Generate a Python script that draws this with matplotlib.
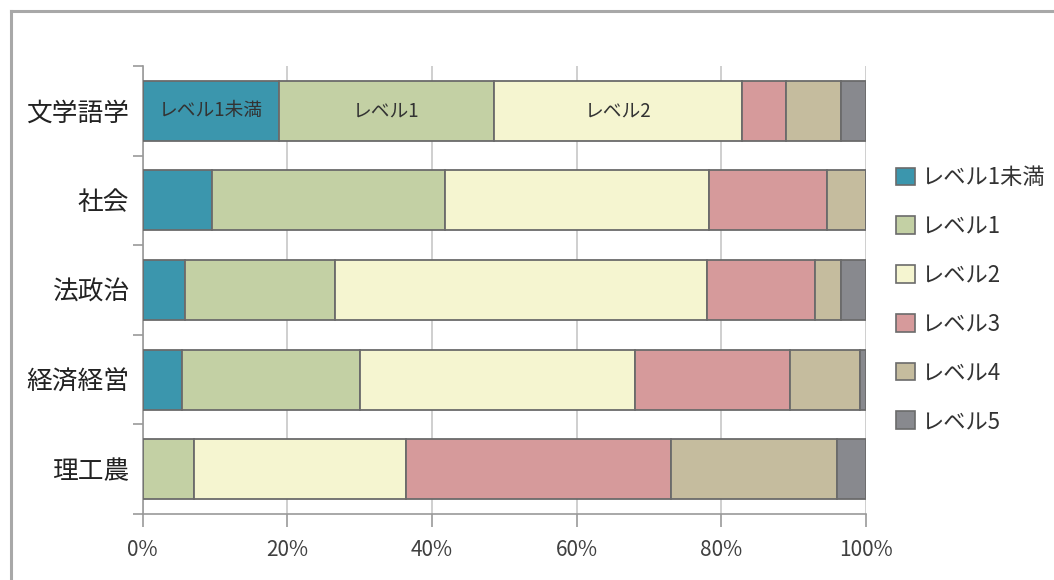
import matplotlib
matplotlib.use("Agg")
import matplotlib.pyplot as plt
from matplotlib.lines import Line2D
from matplotlib.patches import Patch
import numpy as np

plt.rcParams['font.family'] = ['Noto Sans CJK JP', 'DejaVu Sans']

fields = ['文学語学', '社会', '法政治', '経済経営', '理工農']
levels = ['レベル1未満', 'レベル1', 'レベル2', 'レベル3', 'レベル4', 'レベル5']
colors = ['#3b96ad', '#c3d0a4', '#f5f5d0', '#d69a9b', '#c5bc9e', '#88898e']

# share of each level per field (%)
below1 = [18.8, 9.6, 5.9, 5.5, 0.0]
level1 = [29.8, 32.2, 20.7, 24.6, 7.1]
level2 = [34.2, 36.5, 51.4, 38.0, 29.3]
level3 = [6.1, 16.3, 15.0, 21.4, 36.7]
level4 = [7.7, 5.4, 3.5, 9.7, 22.9]
level5 = [3.4, 0.0, 3.5, 0.8, 4.0]
series = [below1, level1, level2, level3, level4, level5]

# segments of the first row that carry their level name
labelled = {0: [0, 1, 2]}

fig = plt.figure(figsize=(10.54, 5.8), dpi=100)
ax = fig.add_axes([0.1354, 0.1138, 0.6862, 0.7724])

y = np.arange(len(fields))
left = np.zeros(len(fields))
for i, (name, vals, c) in enumerate(zip(levels, series, colors)):
    vals = np.array(vals)
    bars = ax.barh(y, vals, left=left, height=0.67, color=c,
                   edgecolor='#6b6b6b', linewidth=1.3, label=name, zorder=3)
    for row, segs in labelled.items():
        if i in segs:
            ax.text(left[row] + vals[row] / 2, y[row], name, ha='center',
                    va='center', fontsize=13.5, color='#333333', zorder=4)
    left += vals

ax.set_xlim(0, 100)
ax.set_ylim(len(fields) - 0.5, -0.5)
ax.set_xticks(np.arange(0, 101, 20))
ax.set_xticklabels([f'{v}%' for v in range(0, 101, 20)], fontsize=15,
                   color='#404040')
ax.set_yticks(y)
ax.set_yticklabels(fields, fontsize=18.5, color='#222222')
ax.set_yticks(np.arange(-0.5, len(fields), 1), minor=True)
ax.tick_params(axis='y', which='major', length=0, pad=10)
ax.tick_params(axis='y', which='minor', length=7, color='#999999', width=1.2)
ax.tick_params(axis='x', length=9, color='#999999', width=1.2, pad=9)
ax.grid(axis='x', color='#cccccc', linewidth=1.3, zorder=0)

for s in ['top', 'right']:
    ax.spines[s].set_visible(False)
ax.spines['left'].set_color('#999999')
ax.spines['bottom'].set_color('#999999')
ax.spines['left'].set_linewidth(1.2)
ax.spines['bottom'].set_linewidth(1.2)

handles = [Patch(facecolor=c, edgecolor='#6b6b6b', linewidth=1.2) for c in colors]
fig.legend(handles, levels, loc='upper left', bbox_to_anchor=(0.831, 0.748),
           frameon=False, fontsize=16, handlelength=0.85, handleheight=0.85,
           handletextpad=0.3, labelspacing=1.16, labelcolor='#333333')

# outer frame
fig.add_artist(Line2D([11 / 1054, 1], [1 - 11 / 580, 1 - 11 / 580],
                      transform=fig.transFigure, color='#a8a8a8', linewidth=2.2))
fig.add_artist(Line2D([11 / 1054, 11 / 1054], [0, 1 - 11 / 580],
                      transform=fig.transFigure, color='#a8a8a8', linewidth=2.2))

fig.savefig('out.png', dpi=100)
